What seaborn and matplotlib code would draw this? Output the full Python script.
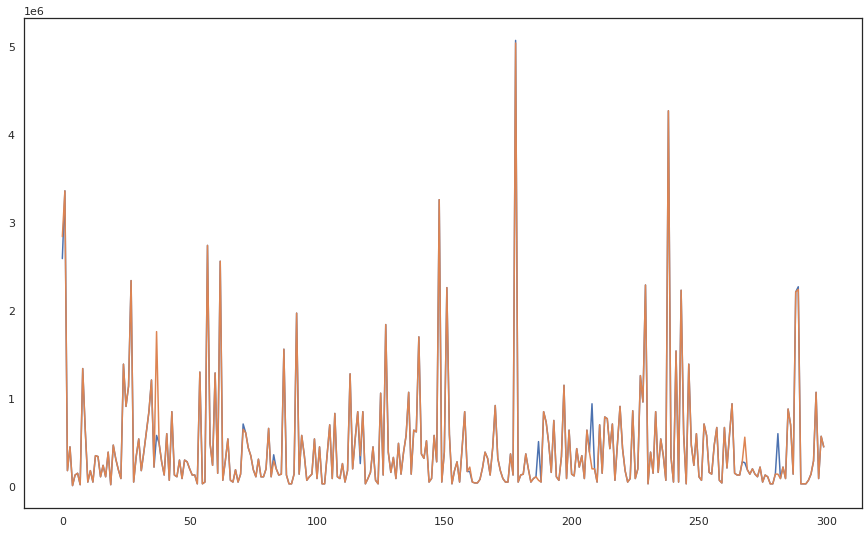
import numpy as np
import pandas as pd
import matplotlib
matplotlib.use("Agg")
import matplotlib.pyplot as plt
import seaborn as sns

# values in millions
actual = [
    2.60, 3.37, 0.19, 0.46, 0.02, 0.14, 0.16, 0.03, 1.35, 0.65,
    0.06, 0.19, 0.06, 0.36, 0.35, 0.12, 0.25, 0.12, 0.40, 0.03,
    0.48, 0.32, 0.20, 0.10, 1.40, 0.92, 1.15, 2.35, 0.06, 0.35,
    0.55, 0.19, 0.40, 0.63, 0.86, 1.22, 0.23, 0.59, 0.50, 0.29,
    0.14, 0.61, 0.08, 0.86, 0.14, 0.12, 0.31, 0.10, 0.31, 0.29,
    0.21, 0.14, 0.14, 0.04, 1.31, 0.04, 0.06, 2.75, 0.50, 0.25,
    1.30, 0.16, 2.57, 0.08, 0.30, 0.55, 0.08, 0.06, 0.20, 0.06,
    0.15, 0.72, 0.62, 0.45, 0.36, 0.20, 0.12, 0.32, 0.12, 0.12,
    0.21, 0.67, 0.12, 0.37, 0.21, 0.14, 0.15, 1.57, 0.14, 0.04,
    0.04, 0.15, 1.98, 0.15, 0.59, 0.37, 0.08, 0.12, 0.15, 0.55,
    0.10, 0.46, 0.04, 0.04, 0.38, 0.71, 0.10, 0.84, 0.12, 0.10,
    0.27, 0.06, 0.19, 1.29, 0.21, 0.55, 0.86, 0.27, 0.86, 0.04,
    0.10, 0.17, 0.46, 0.08, 0.04, 1.07, 0.14, 1.85, 0.40, 0.17,
    0.34, 0.10, 0.50, 0.15, 0.40, 0.59, 1.08, 0.15, 0.65, 0.63,
    1.71, 0.38, 0.33, 0.53, 0.06, 0.10, 0.59, 0.29, 3.27, 0.06,
    0.40, 2.27, 0.60, 0.04, 0.19, 0.29, 0.06, 0.45, 0.86, 0.18,
    0.18, 0.06, 0.05, 0.05, 0.09, 0.22, 0.40, 0.33, 0.14, 0.45,
    0.93, 0.33, 0.19, 0.10, 0.06, 0.06, 0.38, 0.14, 5.08, 0.06,
    0.14, 0.15, 0.38, 0.21, 0.06, 0.10, 0.12, 0.52, 0.06, 0.86,
    0.74, 0.50, 0.17, 0.76, 0.12, 0.08, 0.35, 1.16, 0.10, 0.65,
    0.15, 0.13, 0.44, 0.23, 0.36, 0.10, 0.65, 0.40, 0.95, 0.21,
    0.06, 0.71, 0.16, 0.80, 0.78, 0.44, 0.72, 0.08, 0.50, 0.92,
    0.44, 0.19, 0.06, 0.10, 0.87, 0.10, 0.21, 1.27, 0.97, 2.30,
    0.04, 0.40, 0.16, 0.86, 0.17, 0.55, 0.36, 0.08, 4.28, 0.35,
    0.06, 1.55, 0.06, 2.24, 0.60, 0.04, 1.40, 0.48, 0.25, 0.61,
    0.12, 0.08, 0.72, 0.59, 0.17, 0.15, 0.48, 0.68, 0.08, 0.05,
    0.68, 0.22, 0.60, 0.95, 0.16, 0.14, 0.14, 0.29, 0.28, 0.20,
    0.15, 0.21, 0.15, 0.12, 0.23, 0.06, 0.14, 0.12, 0.04, 0.04,
    0.15, 0.61, 0.10, 0.23, 0.10, 0.89, 0.71, 0.15, 2.22, 2.28,
    0.04, 0.04, 0.04, 0.08, 0.15, 0.30, 1.08, 0.10, 0.58, 0.46,
]

predicted = [
    2.85, 3.37, 0.19, 0.46, 0.02, 0.14, 0.16, 0.03, 1.35, 0.65,
    0.06, 0.19, 0.06, 0.36, 0.35, 0.12, 0.25, 0.12, 0.40, 0.03,
    0.48, 0.32, 0.20, 0.10, 1.40, 0.92, 1.15, 2.35, 0.06, 0.35,
    0.55, 0.19, 0.40, 0.63, 0.86, 1.22, 0.23, 1.77, 0.50, 0.29,
    0.14, 0.61, 0.08, 0.86, 0.14, 0.12, 0.31, 0.10, 0.31, 0.29,
    0.21, 0.14, 0.14, 0.04, 1.31, 0.04, 0.06, 2.75, 0.50, 0.25,
    1.30, 0.16, 2.57, 0.08, 0.30, 0.55, 0.08, 0.06, 0.20, 0.06,
    0.15, 0.66, 0.62, 0.45, 0.36, 0.20, 0.12, 0.32, 0.12, 0.12,
    0.21, 0.67, 0.12, 0.30, 0.21, 0.14, 0.15, 1.57, 0.14, 0.04,
    0.04, 0.15, 1.98, 0.15, 0.59, 0.37, 0.08, 0.12, 0.15, 0.55,
    0.10, 0.46, 0.04, 0.04, 0.38, 0.71, 0.10, 0.84, 0.12, 0.10,
    0.27, 0.06, 0.19, 1.29, 0.21, 0.55, 0.86, 0.36, 0.86, 0.04,
    0.10, 0.17, 0.46, 0.08, 0.04, 1.07, 0.14, 1.85, 0.40, 0.17,
    0.34, 0.10, 0.50, 0.15, 0.40, 0.59, 1.08, 0.15, 0.65, 0.63,
    1.71, 0.38, 0.33, 0.53, 0.06, 0.10, 0.59, 0.29, 3.27, 0.06,
    0.40, 2.27, 0.60, 0.04, 0.19, 0.29, 0.06, 0.45, 0.86, 0.18,
    0.23, 0.06, 0.05, 0.05, 0.09, 0.22, 0.40, 0.33, 0.14, 0.45,
    0.93, 0.33, 0.19, 0.10, 0.06, 0.06, 0.38, 0.14, 5.05, 0.06,
    0.14, 0.15, 0.38, 0.21, 0.06, 0.10, 0.12, 0.08, 0.06, 0.86,
    0.74, 0.50, 0.17, 0.76, 0.12, 0.08, 0.35, 1.16, 0.10, 0.65,
    0.15, 0.13, 0.44, 0.23, 0.36, 0.10, 0.65, 0.40, 0.21, 0.21,
    0.06, 0.71, 0.16, 0.80, 0.78, 0.44, 0.72, 0.08, 0.50, 0.92,
    0.44, 0.19, 0.06, 0.10, 0.87, 0.10, 0.21, 1.27, 0.97, 2.30,
    0.04, 0.40, 0.16, 0.86, 0.17, 0.55, 0.36, 0.08, 4.28, 0.35,
    0.06, 1.55, 0.06, 2.24, 0.60, 0.04, 1.40, 0.48, 0.25, 0.61,
    0.12, 0.08, 0.72, 0.59, 0.17, 0.15, 0.48, 0.68, 0.08, 0.05,
    0.68, 0.22, 0.60, 0.95, 0.16, 0.14, 0.14, 0.29, 0.57, 0.20,
    0.15, 0.21, 0.15, 0.12, 0.23, 0.06, 0.14, 0.12, 0.04, 0.04,
    0.15, 0.15, 0.10, 0.23, 0.10, 0.89, 0.71, 0.15, 2.22, 2.25,
    0.04, 0.04, 0.04, 0.08, 0.15, 0.30, 1.08, 0.10, 0.58, 0.46,
]

# ================================
# Build dataframe
# ================================

df = pd.DataFrame({
    "idx": np.arange(len(actual)),
    "actual": np.array(actual) * 1e6,
    "predicted": np.array(predicted) * 1e6,
})

# ================================
# Plot
# ================================

sns.set_theme(style="white")

fig = plt.figure(figsize=(867 / 72, 534 / 72), dpi=72)
ax = fig.add_axes([0.028, 0.049, 0.966, 0.917])

sns.lineplot(data=df, x="idx", y="actual", ax=ax, color="#4c72b0", linewidth=1.5)
sns.lineplot(data=df, x="idx", y="predicted", ax=ax, color="#dd8452", linewidth=1.5)

ax.set_xlabel("")
ax.set_ylabel("")
for s in ax.spines.values():
    s.set_color("#262626")
    s.set_linewidth(1.25)

fig.savefig("out.png", dpi=72)
